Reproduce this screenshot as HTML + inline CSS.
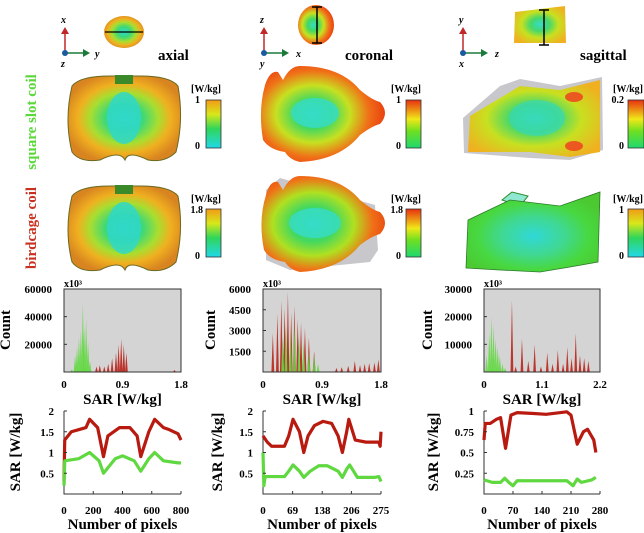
<!DOCTYPE html>
<html><head><meta charset="utf-8"><style>
body{margin:0;background:#fff}
svg{display:block;font-family:"Liberation Serif",serif;font-weight:bold}
</style></head><body>
<svg id="fig" width="644" height="533" viewBox="0 0 644 533" xmlns="http://www.w3.org/2000/svg">
<defs>
<linearGradient id="cbA" x1="0" y1="1" x2="0" y2="0"><stop offset="0" stop-color="#22d8e8"/><stop offset="0.4" stop-color="#2fd65a"/><stop offset="0.7" stop-color="#d8e81a"/><stop offset="1" stop-color="#f29a18"/></linearGradient>
<linearGradient id="cbB" x1="0" y1="1" x2="0" y2="0"><stop offset="0" stop-color="#1fd870"/><stop offset="0.35" stop-color="#6ee020"/><stop offset="0.6" stop-color="#f0e818"/><stop offset="1" stop-color="#e83010"/></linearGradient>
<radialGradient id="gAx" cx="0.5" cy="0.5" r="0.55"><stop offset="0" stop-color="#2fd8d0"/><stop offset="0.3" stop-color="#3cd878"/><stop offset="0.55" stop-color="#a8de30"/><stop offset="0.75" stop-color="#f0b020"/><stop offset="1" stop-color="#d88420"/></radialGradient>
<radialGradient id="gCo" cx="0.42" cy="0.5" r="0.6"><stop offset="0" stop-color="#36dcc8"/><stop offset="0.25" stop-color="#42d860"/><stop offset="0.5" stop-color="#c8e020"/><stop offset="0.75" stop-color="#f07018"/><stop offset="1" stop-color="#e83a10"/></radialGradient>
<radialGradient id="gCo2" cx="0.42" cy="0.5" r="0.6"><stop offset="0" stop-color="#36dcc8"/><stop offset="0.3" stop-color="#42d860"/><stop offset="0.55" stop-color="#b0e020"/><stop offset="0.8" stop-color="#f07018"/><stop offset="1" stop-color="#e84a10"/></radialGradient>
<radialGradient id="gSa" cx="0.5" cy="0.5" r="0.6"><stop offset="0" stop-color="#36dcc8"/><stop offset="0.3" stop-color="#46d86a"/><stop offset="0.6" stop-color="#c8e020"/><stop offset="1" stop-color="#f0b020"/></radialGradient>
<radialGradient id="gSa2" cx="0.5" cy="0.55" r="0.6"><stop offset="0" stop-color="#30d8d8"/><stop offset="0.4" stop-color="#40d890"/><stop offset="0.7" stop-color="#48d840"/><stop offset="1" stop-color="#4cc830"/></radialGradient>
</defs>

<g font-style="italic" font-size="10">
<line x1="65" y1="53" x2="65" y2="32" stroke="#c0282a" stroke-width="1.5"/><polygon points="61,34 69,34 65,27" fill="#c0282a"/>
<line x1="65" y1="53" x2="84" y2="53" stroke="#1a7a3a" stroke-width="1.5"/><polygon points="83,49 83,57 90,53" fill="#1a7a3a"/>
<circle cx="65" cy="53" r="3" fill="#1a5aa0"/>
<text x="61" y="23">x</text><text x="95" y="57">y</text><text x="61" y="67">z</text>
</g>
<g font-style="italic" font-size="10">
<line x1="264" y1="53" x2="264" y2="32" stroke="#c0282a" stroke-width="1.5"/><polygon points="260,34 268,34 264,27" fill="#c0282a"/>
<line x1="264" y1="53" x2="283" y2="53" stroke="#1a7a3a" stroke-width="1.5"/><polygon points="282,49 282,57 289,53" fill="#1a7a3a"/>
<circle cx="264" cy="53" r="3" fill="#1a5aa0"/>
<text x="260" y="23">z</text><text x="296" y="57">x</text><text x="260" y="67">y</text>
</g>
<g font-style="italic" font-size="10">
<line x1="463" y1="53" x2="463" y2="32" stroke="#c0282a" stroke-width="1.5"/><polygon points="459,34 467,34 463,27" fill="#c0282a"/>
<line x1="463" y1="53" x2="482" y2="53" stroke="#1a7a3a" stroke-width="1.5"/><polygon points="481,49 481,57 488,53" fill="#1a7a3a"/>
<circle cx="463" cy="53" r="3" fill="#1a5aa0"/>
<text x="459" y="23">y</text><text x="495" y="57">z</text><text x="459" y="67">x</text>
</g>
<g><ellipse cx="124" cy="32" rx="20" ry="16" fill="url(#gAx)"/><line x1="105" y1="32" x2="143" y2="32" stroke="#000" stroke-width="1.2"/></g>
<g><ellipse cx="316" cy="25" rx="18" ry="20" fill="url(#gCo)"/><line x1="317" y1="7" x2="317" y2="43" stroke="#000" stroke-width="1.5"/><line x1="312" y1="7" x2="322" y2="7" stroke="#000" stroke-width="1.5"/><line x1="312" y1="43" x2="322" y2="43" stroke="#000" stroke-width="1.5"/></g>
<g><polygon points="515,12 565,6 566,43 514,43" fill="url(#gSa)"/><line x1="544" y1="10" x2="544" y2="45" stroke="#000" stroke-width="1.5"/><line x1="539" y1="10" x2="549" y2="10" stroke="#000" stroke-width="1.5"/><line x1="539" y1="45" x2="549" y2="45" stroke="#000" stroke-width="1.5"/></g>

<text x="158" y="60" font-size="15">axial</text>
<text x="345" y="60" font-size="15">coronal</text>
<text x="580" y="60" font-size="15">sagittal</text>

<text transform="translate(36,122) rotate(-90)" text-anchor="middle" font-size="15" fill="#5ad83a">square slot coil</text>
<text transform="translate(36,228) rotate(-90)" text-anchor="middle" font-size="15" fill="#c83020">birdcage coil</text>

<g>
<path d="M72,86 Q80,76 110,76 L140,76 Q170,76 178,86 Q184,120 176,152 Q165,163 148,160 Q128,150 125,160 Q120,150 100,160 Q80,163 72,152 Q64,120 72,86Z" fill="url(#gAx)" stroke="#6a6a20" stroke-width="1"/>
<ellipse cx="124" cy="118" rx="17" ry="26" fill="#30d8c8" opacity="0.85"/>
<rect x="115" y="75" width="18" height="9" fill="#3a8a2a"/>
</g>
<g>
<path d="M265,85 Q270,70 278,72 L283,80 Q290,66 300,66 Q340,66 360,90 Q372,100 380,102 Q390,113 380,124 Q372,126 360,135 Q340,160 300,162 Q290,160 285,152 Q270,150 263,140 Q258,110 265,85Z" fill="url(#gCo)"/>
<ellipse cx="315" cy="113" rx="24" ry="15" fill="#36dcc8" opacity="0.8"/>
</g>
<g>
<polygon points="500,86 520,79 560,86 602,77 603,150 570,160 530,158 464,153 463,118" fill="#c8c8cc"/>
<polygon points="470,116 520,86 560,90 600,80 600,152 570,157 530,152 468,152" fill="url(#gSa)"/>
<ellipse cx="537" cy="118" rx="28" ry="18" fill="#38d8b8" opacity="0.7"/>
<ellipse cx="574" cy="97" rx="9" ry="5" fill="#f03a20" opacity="0.8"/><ellipse cx="574" cy="146" rx="9" ry="5" fill="#f03a20" opacity="0.8"/>
</g>
<g>
<path d="M72,196 Q80,186 110,186 L140,186 Q170,186 178,196 Q184,230 176,262 Q165,273 148,270 Q128,260 125,270 Q120,260 100,270 Q80,273 72,262 Q64,230 72,196Z" fill="url(#gAx)" stroke="#6a6a20" stroke-width="1"/>
<ellipse cx="124" cy="228" rx="17" ry="26" fill="#30d8c8" opacity="0.85"/>
<rect x="115" y="185" width="18" height="9" fill="#3a8a2a"/>
</g>
<g>
<path d="M266,190 L280,178 L375,205 L378,250 L370,262 L290,270 L266,260 Z" fill="#c8c8cc"/>
<path d="M266,195 Q270,180 278,182 L283,190 Q290,176 300,176 Q340,176 360,200 Q372,210 380,212 Q390,223 380,234 Q372,236 360,245 Q340,270 300,272 Q290,270 285,262 Q270,260 264,250 Q258,220 266,195Z" fill="url(#gCo2)"/>
<ellipse cx="315" cy="223" rx="26" ry="15" fill="#36dcc8" opacity="0.8"/>
</g>
<g>
<polygon points="502,200 512,192 528,196 520,206" fill="#90e8d0" stroke="#2a8a2a"/>
<polygon points="468,220 510,200 560,206 600,192 598,262 570,267 540,272 500,270 466,268" fill="url(#gSa2)" stroke="#2a7a2a" stroke-width="0.8"/>
</g>

<g font-size="10">
<text x="191" y="92">[W/kg]</text><text x="200" y="103" text-anchor="end">1</text><text x="200" y="149" text-anchor="end">0</text>
<rect x="206" y="100" width="15" height="48" fill="url(#cbA)" stroke="#333" stroke-width="0.8"/>
<text x="391" y="92">[W/kg]</text><text x="401" y="103" text-anchor="end">1</text><text x="401" y="149" text-anchor="end">0</text>
<rect x="406" y="100" width="15" height="48" fill="url(#cbB)" stroke="#333" stroke-width="0.8"/>
<text x="613" y="92">[W/kg]</text><text x="624" y="103" text-anchor="end">0.2</text><text x="624" y="149" text-anchor="end">0</text>
<rect x="628" y="100" width="16" height="48" fill="url(#cbB)" stroke="#333" stroke-width="0.8"/>
<text x="191" y="202">[W/kg]</text><text x="203" y="213" text-anchor="end">1.8</text><text x="200" y="259" text-anchor="end">0</text>
<rect x="206" y="209" width="15" height="48" fill="url(#cbA)" stroke="#333" stroke-width="0.8"/>
<text x="391" y="202">[W/kg]</text><text x="403" y="213" text-anchor="end">1.8</text><text x="401" y="259" text-anchor="end">0</text>
<rect x="406" y="209" width="15" height="48" fill="url(#cbB)" stroke="#333" stroke-width="0.8"/>
<text x="613" y="202">[W/kg]</text><text x="624" y="213" text-anchor="end">1</text><text x="624" y="259" text-anchor="end">0</text>
<rect x="628" y="209" width="16" height="48" fill="url(#cbA)" stroke="#333" stroke-width="0.8"/>
</g>
<g id="charts"></g>
</svg>
<script>
const histAxXTicks=[0,0.9,1.8];
const histAxYTicks=[20000,40000,60000];
const histAxGreenPos=[0.12,0.17,0.2,0.23,0.26,0.29,0.31,0.34,0.37,0.4];
const histAxGreenVal=[2000,12000,18000,25000,30000,50000,32000,38000,22000,8000];
const histAxRedPos=[0.5,0.55,0.62,0.68,0.74,0.8,0.84,0.88,0.92,0.96,1.7];
const histAxRedVal=[4000,5000,4000,6000,10000,14000,20000,24000,20000,14000,1500];

const histCoXTicks=[0,0.9,1.8];
const histCoYTicks=[1500,3000,4500,6000];
const histCoRedPos=[0.15,0.22,0.28,0.33,0.38,0.43,0.48,0.53,0.58,0.64,0.7,0.78,1.12,1.2,1.3,1.4,1.48,1.55,1.62,1.7,1.76];
const histCoRedVal=[2800,4200,5200,4600,5800,4300,4800,3800,3600,3200,2500,1500,300,350,450,800,500,600,650,700,900];
const histCoGreenPos=[0.3,0.35,0.42,0.48,0.55,0.62,0.7,0.78,0.84];
const histCoGreenVal=[2500,3500,3000,3600,2600,2200,1500,1200,600];

const histSaXTicks=[0,1.1,2.2];
const histSaYTicks=[10000,20000,30000];
const histSaGreenPos=[0.05,0.1,0.14,0.18,0.22,0.26,0.3,0.35,0.4];
const histSaGreenVal=[6000,14000,20000,17000,12000,9000,6000,3000,1500];
const histSaRedPos=[0.53,0.6,0.72,0.84,0.96,1.08,1.2,1.3,1.4,1.5,1.58,1.66,1.74,1.82,1.9,1.98];
const histSaRedVal=[26000,2000,12000,4000,10000,2000,7000,3000,8000,3000,9000,5000,14000,6000,5000,4000];

const lineAxX=[0,5,50,100,150,175,230,270,300,380,450,500,525,580,620,680,720,780,800];
const lineAxRed=[0.3,1.3,1.5,1.55,1.6,1.8,1.6,0.9,1.4,1.6,1.6,1.4,0.9,1.5,1.8,1.6,1.55,1.45,1.3];
const lineAxGreenX=[0,5,100,175,240,270,350,400,480,525,580,620,680,780,800];
const lineAxGreen=[0.2,0.8,0.85,1.0,0.8,0.5,0.85,0.92,0.8,0.55,0.85,1.0,0.8,0.75,0.75];
const lineAxXTicks=[0,200,400,600,800];
const lineAxYTicks=[0.5,1,1.5,2];

const lineCoX=[0,10,20,50,60,70,85,95,105,120,140,160,175,185,195,200,215,240,270,273,275];
const lineCoRed=[1.4,1.25,1.15,1.15,1.4,1.8,1.5,1.0,1.4,1.65,1.75,1.7,1.4,1.0,1.5,1.8,1.3,1.25,1.25,1.15,1.5];
const lineCoGreenX=[0,2,5,50,60,70,85,95,110,130,150,175,185,195,202,220,260,270,275];
const lineCoGreen=[1.0,0.2,0.42,0.42,0.55,0.7,0.55,0.4,0.55,0.68,0.68,0.55,0.4,0.6,0.7,0.4,0.4,0.42,0.3];
const lineCoXTicks=[0,69,138,206,275];
const lineCoYTicks=[0.5,1,1.5,2];

const lineSaX=[0,3,15,30,40,52,65,80,120,150,200,210,225,240,250,265,270];
const lineSaRed=[0.65,0.85,0.85,0.9,0.92,0.55,0.95,0.98,0.97,0.96,0.99,0.95,0.6,0.75,0.78,0.65,0.5];
const lineSaGreenX=[0,20,40,50,60,70,80,200,215,225,235,260,270];
const lineSaGreen=[0.17,0.14,0.14,0.19,0.14,0.1,0.16,0.16,0.1,0.18,0.14,0.17,0.2];
const lineSaXTicks=[0,70,140,210,280];
const lineSaYTicks=[0.25,0.5,0.75,1];

const NS="http://www.w3.org/2000/svg";
const root=document.getElementById('charts');
function mk(tag,attrs,parent){const e=document.createElementNS(NS,tag);for(const k in attrs)e.setAttribute(k,attrs[k]);(parent||root).appendChild(e);return e;}
function txt(x,y,s,size,anchor,parent){const t=mk('text',{x:x,y:y,'font-size':size,'text-anchor':anchor||'middle'},parent);t.textContent=s;return t;}

function histogram(name,x0,x1,xmax,ymax,xt,yt,series,ylabX){
  const y0=372,y1=289;
  const g=mk('g',{});
  
  
  const sx=v=>x0+(v/xmax)*(x1-x0), sy=v=>y0-(v/ymax)*(y0-y1);
  mk('rect',{x:x0,y:y1,width:x1-x0,height:y0-y1,fill:'#d4d4d4'},g);
  const hw=0.012*xmax;
  series.forEach(s=>{
    s.pos.forEach((p,i)=>{
      const sp=mk('polygon',{points:`${sx(p-hw)},${y0} ${sx(p)},${sy(s.val[i])} ${sx(p+hw)},${y0}`,fill:s.color,opacity:0.85},g);
      
      
    });
  });
  mk('rect',{x:x0,y:y1,width:x1-x0,height:y0-y1,fill:'none',stroke:'#333','stroke-width':1},g);
  xt.forEach(v=>{txt(sx(v),388,String(v),11,'middle',g);});
  yt.forEach(v=>{txt(x0-12,sy(v)+4,String(v),11,'end',g);mk('line',{x1:x0,x2:x0+3,y1:sy(v),y2:sy(v),stroke:'#333'},g);});
  txt(x0,287,'x10³',10,'start',g);
  const xl=txt((x0+x1)/2,404,'SAR [W/kg]',15,'middle',g);
  
  
  const yl=mk('text',{transform:`translate(${ylabX},330) rotate(-90)`,'font-size':15,'text-anchor':'middle'},g);
  yl.textContent='Count';
  
  
}

function lineplot(name,x0,x1,xmax,ymax,xt,yt,series,ylabX){
  const y0=494,y1=411;
  const g=mk('g',{});
  
  
  const sx=v=>x0+(v/xmax)*(x1-x0), sy=v=>y0-(v/ymax)*(y0-y1);
  mk('path',{d:`M${x0},${y1} L${x0},${y0} L${x1},${y0}`,fill:'none',stroke:'#333','stroke-width':1},g);
  series.forEach(s=>{
    const p=mk('polyline',{points:s.x.map((v,i)=>sx(v)+','+sy(s.y[i])).join(' '),fill:'none',stroke:s.color,'stroke-width':3.2,'stroke-linejoin':'round'},g);
    
    
  });
  xt.forEach(v=>{txt(sx(v),514,String(v),11,'middle',g);mk('line',{x1:sx(v),x2:sx(v),y1:y0,y2:y0-3,stroke:'#333'},g);});
  yt.forEach(v=>{txt(x0-10,sy(v)+4,String(v),11,'end',g);mk('line',{x1:x0,x2:x0+3,y1:sy(v),y2:sy(v),stroke:'#333'},g);});
  const xl=txt((x0+x1)/2,529,'Number of pixels',15,'middle',g);
  
  
  const yl=mk('text',{transform:`translate(${ylabX},452) rotate(-90)`,'font-size':15,'text-anchor':'middle'},g);
  yl.textContent='SAR [W/kg]';
  
  
}

const RED='#b81a10', GRN='#60d840';
histogram('histogram-axial',64,181,1.8,60000,histAxXTicks,histAxYTicks,[{pos:histAxRedPos,val:histAxRedVal,color:RED,name:'birdcage'},{pos:histAxGreenPos,val:histAxGreenVal,color:GRN,name:'square-slot'}],10);
histogram('histogram-coronal',263,381,1.8,6000,histCoXTicks,histCoYTicks,[{pos:histCoRedPos,val:histCoRedVal,color:RED,name:'birdcage'},{pos:histCoGreenPos,val:histCoGreenVal,color:GRN,name:'square-slot'}],215);
histogram('histogram-sagittal',484,600,2.2,30000,histSaXTicks,histSaYTicks,[{pos:histSaGreenPos,val:histSaGreenVal,color:GRN,name:'square-slot'},{pos:histSaRedPos,val:histSaRedVal,color:RED,name:'birdcage'}],432);

lineplot('profile-axial',64,181,800,2,lineAxXTicks,lineAxYTicks,[{x:lineAxX,y:lineAxRed,color:RED,name:'birdcage-line'},{x:lineAxGreenX,y:lineAxGreen,color:GRN,name:'square-slot-line'}],20);
lineplot('profile-coronal',263,381,275,2,lineCoXTicks,lineCoYTicks,[{x:lineCoX,y:lineCoRed,color:RED,name:'birdcage-line'},{x:lineCoGreenX,y:lineCoGreen,color:GRN,name:'square-slot-line'}],222);
lineplot('profile-sagittal',484,600,280,1,lineSaXTicks,lineSaYTicks,[{x:lineSaX,y:lineSaRed,color:RED,name:'birdcage-line'},{x:lineSaGreenX,y:lineSaGreen,color:GRN,name:'square-slot-line'}],438);
</script>
</body></html>
